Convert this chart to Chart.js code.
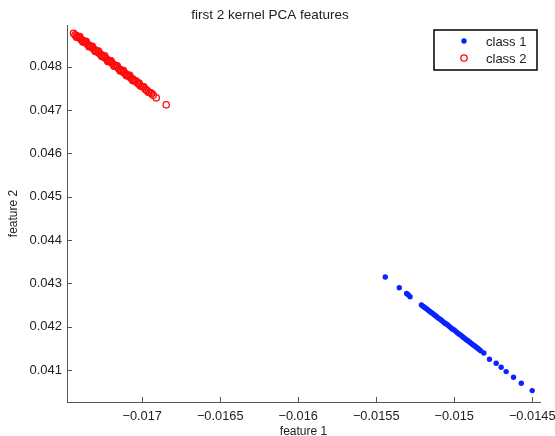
<!DOCTYPE html>
<html><head><meta charset="utf-8">
<script src="https://cdn.jsdelivr.net/npm/chart.js@4.4.0/dist/chart.umd.min.js"></script>
<style>html,body{margin:0;padding:0;background:#fff}#c{display:block}</style>
</head><body>
<canvas id="c" width="555" height="436"></canvas>
<script>
const class1X=[-0.015442,-0.015352,-0.015305,-0.015295,-0.015283,-0.01521,-0.01520,-0.01519,-0.01518,-0.01517,-0.01516,-0.01515,-0.01514,-0.01513,-0.01512,-0.01511,-0.01510,-0.01509,-0.01508,-0.01507,-0.01506,-0.01505,-0.01504,-0.01503,-0.01502,-0.01501,-0.01500,-0.01499,-0.01498,-0.01497,-0.01496,-0.01495,-0.01494,-0.01493,-0.01492,-0.01491,-0.01490,-0.01489,-0.01488,-0.01487,-0.01486,-0.01485,-0.01484,-0.01483,-0.01481,-0.014774,-0.014731,-0.014699,-0.014667,-0.014620,-0.014570,-0.014500];
const class1Y=[0.043145,0.042895,0.042764,0.042735,0.042690,0.04250,0.04247,0.04244,0.04242,0.04239,0.04236,0.04233,0.04231,0.04228,0.04225,0.04222,0.04219,0.04217,0.04214,0.04211,0.04208,0.04206,0.04203,0.04200,0.04197,0.04194,0.04192,0.04189,0.04186,0.04183,0.04181,0.04178,0.04175,0.04172,0.04169,0.04167,0.04164,0.04161,0.04158,0.04156,0.04153,0.04150,0.04147,0.04144,0.04139,0.041247,0.041154,0.041062,0.040961,0.040832,0.040694,0.040523];
const class2X=[-0.01744,-0.01743,-0.01742,-0.01741,-0.01740,-0.01739,-0.01738,-0.01737,-0.01736,-0.01735,-0.01734,-0.01733,-0.01732,-0.01731,-0.01730,-0.01729,-0.01728,-0.01727,-0.01726,-0.01725,-0.01724,-0.01723,-0.01722,-0.01721,-0.01720,-0.01719,-0.01718,-0.01717,-0.01716,-0.01715,-0.01714,-0.01713,-0.01712,-0.01711,-0.01710,-0.01709,-0.01708,-0.01707,-0.01706,-0.01705,-0.01703,-0.01702,-0.01700,-0.01698,-0.01697,-0.01695,-0.01693,-0.01691,-0.016846,
  -0.01742,-0.01740,-0.01738,-0.01736,-0.01734,-0.01732,-0.01730,-0.01728,-0.01726,-0.01724,-0.01722,-0.01720,-0.01718,-0.01716,-0.01714,-0.01712,-0.01710,-0.01708,-0.01706,-0.01704,-0.01702,-0.01701,-0.01699,-0.01696,-0.01694];
const class2Y=[0.04877,0.04873,0.04871,0.04867,0.04866,0.04862,0.04860,0.04857,0.04855,0.04851,0.04849,0.04846,0.04844,0.04840,0.04838,0.04835,0.04832,0.04829,0.04827,0.04823,0.04821,0.04818,0.04815,0.04812,0.04810,0.04807,0.04804,0.04801,0.04799,0.04795,0.04793,0.04790,0.04787,0.04784,0.04782,0.04779,0.04776,0.04773,0.04771,0.04767,0.04762,0.04759,0.04754,0.04748,0.04745,0.04740,0.04734,0.04728,0.047118,
  0.04868,0.04869,0.04857,0.04858,0.04846,0.04847,0.04835,0.04836,0.04824,0.04825,0.04812,0.04813,0.04801,0.04802,0.04790,0.04791,0.04779,0.04780,0.04768,0.04767,0.04762,0.04755,0.04753,0.04741,0.04738];
const xTicks=[-0.017,-0.0165,-0.016,-0.0155,-0.015,-0.0145];
const yTicks=[0.041,0.042,0.043,0.044,0.045,0.046,0.047,0.048];
const seriesNames=['class 1','class 2'];

const FONT='"Liberation Sans", Arial, Helvetica, sans-serif';
const TXT='#222';
const fmt=v=>(v<0?'\u2212':'')+String(Math.abs(+v.toFixed(5)));

const innerTicks={id:'innerTicks',afterDraw(chart){
  const{ctx,chartArea:{left,bottom},scales:{x,y}}=chart;
  ctx.save();ctx.strokeStyle='#555';ctx.lineWidth=1;ctx.beginPath();
  xTicks.forEach(t=>{const p=Math.round(x.getPixelForValue(t))+.5;ctx.moveTo(p,bottom);ctx.lineTo(p,bottom-5);});
  yTicks.forEach(t=>{const p=Math.round(y.getPixelForValue(t))+.5;ctx.moveTo(left,p);ctx.lineTo(left+5,p);});
  ctx.stroke();ctx.restore();
}};

const boxLegend={id:'boxLegend',afterDraw(chart){
  const{ctx}=chart;
  ctx.save();
  ctx.fillStyle='#fff';ctx.fillRect(434,30,103,40);
  ctx.strokeStyle='#000';ctx.lineWidth=1.5;ctx.strokeRect(434,30,103,40);
  chart.data.datasets.forEach((ds,i)=>{
    const cy=41+i*17;
    ctx.beginPath();ctx.arc(464,cy,ds.pointRadius,0,Math.PI*2);
    if(ds.pointBackgroundColor!=='transparent'){ctx.fillStyle=ds.pointBackgroundColor;ctx.fill();}
    else{ctx.strokeStyle=ds.pointBorderColor;ctx.lineWidth=ds.pointBorderWidth;ctx.stroke();}
    ctx.fillStyle=TXT;ctx.font='13px '+FONT;ctx.textBaseline='middle';ctx.textAlign='left';
    ctx.fillText(ds.label,486,cy+1);
  });
  ctx.restore();
}};

new Chart(document.getElementById('c'),{
  type:'scatter',
  data:{datasets:[
    {label:seriesNames[0],data:class1X.map((v,i)=>({x:v,y:class1Y[i]})),pointRadius:2.7,pointBackgroundColor:'#0a22ff',pointBorderColor:'#0a22ff',pointBorderWidth:0},
    {label:seriesNames[1],data:class2X.map((v,i)=>({x:v,y:class2Y[i]})),pointRadius:3.2,pointBackgroundColor:'transparent',pointBorderColor:'#ff0a0a',pointBorderWidth:1.3}
  ]},
  options:{responsive:false,animation:false,
    layout:{padding:{left:0,right:15,top:0,bottom:0}},
    plugins:{legend:{display:false},tooltip:{enabled:false},
      title:{display:true,text:'first 2 kernel PCA features',color:TXT,font:{family:FONT,size:13.5,weight:'normal'},padding:{top:7,bottom:1.8}}},
    scales:{
      x:{type:'linear',min:-0.017482,max:-0.01445,
        afterBuildTicks:s=>{s.ticks=xTicks.map(v=>({value:v}));},
        afterFit:s=>{s.height=34;s.paddingLeft=0;s.paddingRight=0;},
        grid:{display:false,drawTicks:false},border:{display:true,color:'#555',width:1},
        ticks:{color:TXT,font:{family:FONT,size:12.8},padding:7,maxRotation:0,callback:v=>fmt(v)},
        title:{display:true,text:'feature 1',color:TXT,font:{family:FONT,size:12},padding:{top:0,bottom:-2.5}}},
      y:{type:'linear',min:0.04026,max:0.04896,
        afterBuildTicks:s=>{s.ticks=yTicks.map(v=>({value:v}));},
        afterFit:s=>{s.width=67;s.paddingTop=0;s.paddingBottom=0;},
        grid:{display:false,drawTicks:false},border:{display:true,color:'#555',width:1},
        ticks:{color:TXT,font:{family:FONT,size:13},padding:5,callback:v=>fmt(v)},
        title:{display:true,text:'feature 2',color:TXT,font:{family:FONT,size:12},padding:{top:6,bottom:0}}}
    }
  },
  plugins:[innerTicks,boxLegend]
});
</script>
</body></html>
